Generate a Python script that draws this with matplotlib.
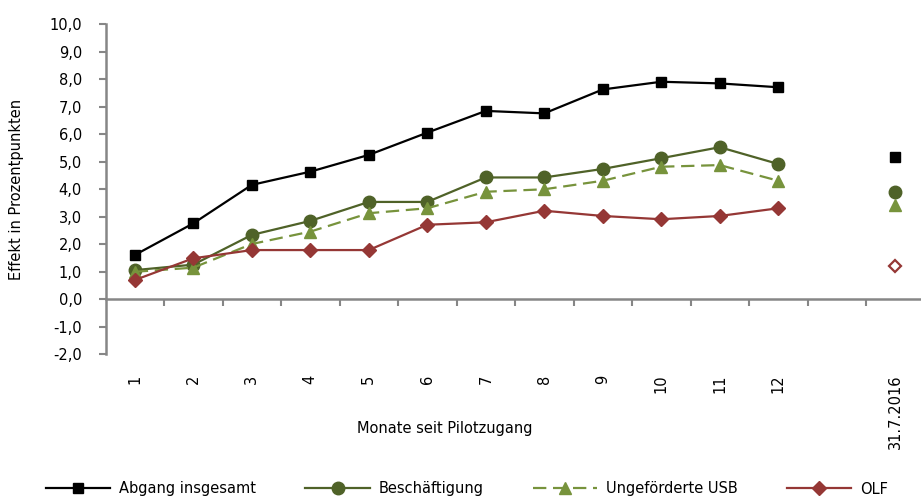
import matplotlib
matplotlib.use("Agg")
import matplotlib.pyplot as plt
import numpy as np

# categories on the x axis (13th slot left empty)
kategorien = ["1", "2", "3", "4", "5", "6", "7", "8", "9", "10", "11", "12", "", "31.7.2016"]
monate = [1, 2, 3, 4, 5, 6, 7, 8, 9, 10, 11, 12]

abgang = [1.6, 2.75, 4.15, 4.63, 5.24, 6.05, 6.84, 6.75, 7.62, 7.9, 7.84, 7.7]
beschaeftigung = [1.05, 1.25, 2.33, 2.84, 3.53, 3.53, 4.42, 4.42, 4.73, 5.12, 5.52, 4.91]
usb = [0.99, 1.14, 2.0, 2.45, 3.12, 3.3, 3.9, 3.99, 4.3, 4.81, 4.87, 4.3]
olf = [0.69, 1.48, 1.78, 1.78, 1.78, 2.7, 2.79, 3.21, 3.02, 2.9, 3.02, 3.3]

# Stichtag 31.7.2016
stichtag_x = 14
stichtag = {"abgang": 5.15, "besch": 3.9, "usb": 3.42, "olf": 1.21}

schwarz = "#000000"
dunkelgruen = "#4F6228"
hellgruen = "#77933C"
rot = "#953735"
grau = "#868686"

plt.rcParams["font.family"] = ["DejaVu Sans"]
plt.rcParams["font.size"] = 10.5

fig = plt.figure(figsize=(9.21, 4.97), dpi=100)
ax = fig.add_axes([0.1146, 0.2877, 0.8854, 0.664])

ax.plot(monate, abgang, color=schwarz, lw=1.6, marker="s", ms=6.8, label="Abgang insgesamt", zorder=4)
ax.plot(monate, beschaeftigung, color=dunkelgruen, lw=1.6, marker="o", ms=9, label="Beschäftigung", zorder=3)
ax.plot(monate, usb, color=hellgruen, lw=1.6, ls=(0, (6, 3)), marker="^", ms=8.5, label="Ungeförderte USB", zorder=3)
ax.plot(monate, olf, color=rot, lw=1.6, marker="D", ms=6.8, label="OLF", zorder=5)

ax.plot(stichtag_x, stichtag["abgang"], ls="none", marker="s", ms=6.8, color=schwarz)
ax.plot(stichtag_x, stichtag["besch"], ls="none", marker="o", ms=9, color=dunkelgruen)
ax.plot(stichtag_x, stichtag["usb"], ls="none", marker="^", ms=8.5, color=hellgruen)
ax.plot(stichtag_x, stichtag["olf"], ls="none", marker="D", ms=6, mfc="white", mec=rot, mew=1.6)

ax.set_xlim(0.5, 14.44)
ax.set_ylim(-2, 10)
ax.set_yticks(np.arange(-2, 10.1, 1))
ax.set_yticklabels([f"{v:.1f}".replace(".", ",") for v in np.arange(-2, 10.1, 1)])

# boundaries as major ticks, labels on minor ticks
ax.set_xticks(np.arange(1.5, 14, 1))
ax.set_xticklabels([])
ax.set_xticks(np.arange(1, 15), minor=True)
ax.set_xticklabels(kategorien, minor=True)
ax.tick_params(axis="x", which="major", length=5, width=1.5, color=grau, direction="out")
ax.tick_params(axis="x", which="minor", length=0, pad=54.5, labelrotation=90)
ax.tick_params(axis="y", length=5, width=1.5, color=grau, pad=12)

for s in ["top", "right"]:
    ax.spines[s].set_visible(False)
ax.spines["bottom"].set_position(("data", 0))
ax.spines["bottom"].set_color(grau)
ax.spines["bottom"].set_linewidth(1.8)
ax.spines["left"].set_color(grau)
ax.spines["left"].set_linewidth(1.8)

ax.set_ylabel("Effekt in Prozentpunkten")
ax.yaxis.set_label_coords(-0.1, 0.5)
fig.text(445 / 921, 1 - 428 / 497, "Monate seit Pilotzugang", ha="center", va="center")

fig.legend(loc="center", bbox_to_anchor=(0.507, 1 - 489 / 497), ncol=4, frameon=False,
           handlelength=4.4, columnspacing=3.4, handletextpad=0.6)

fig.savefig("out.png", dpi=100)
